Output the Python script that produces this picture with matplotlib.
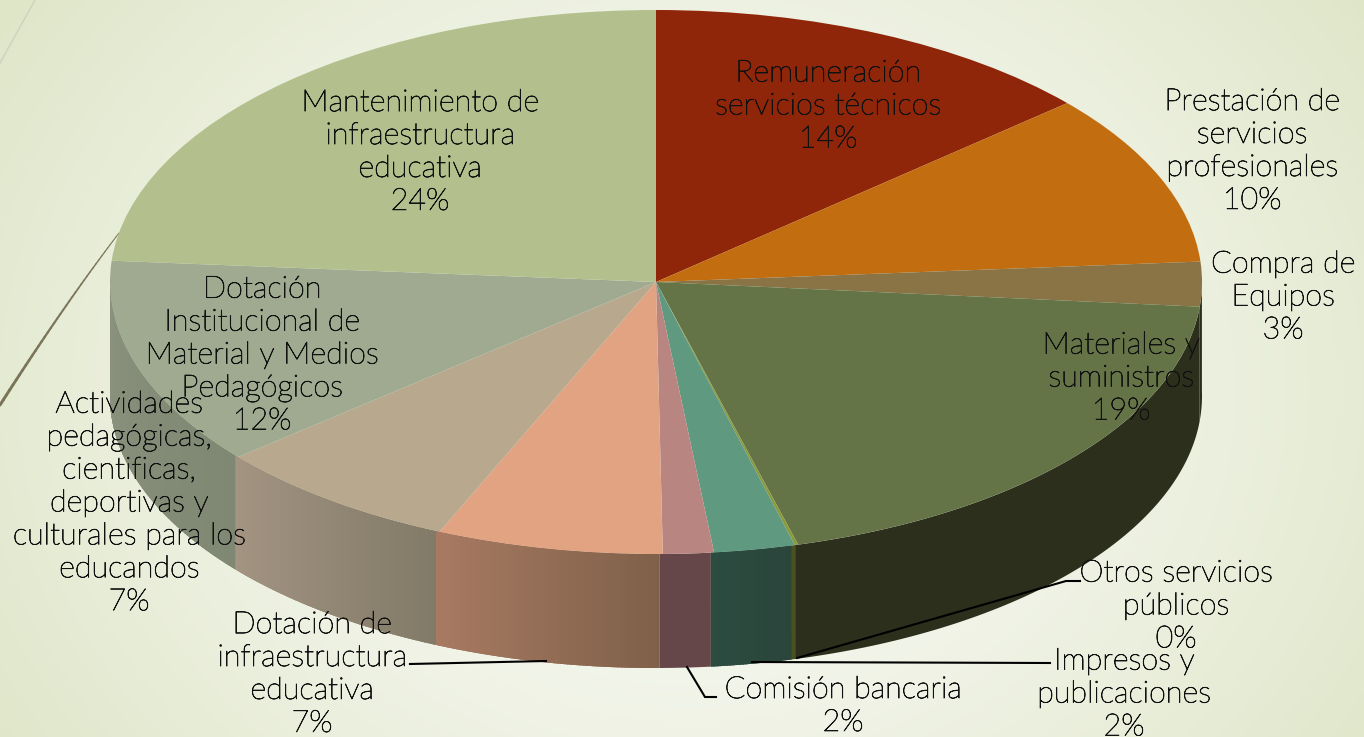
import numpy as np
import matplotlib
matplotlib.use("Agg")
import matplotlib.pyplot as plt
import matplotlib.patheffects as pe
from matplotlib.colors import to_rgb
from matplotlib.patches import Polygon
from matplotlib.collections import LineCollection

names = ["Remuneración\nservicios técnicos", "Prestación de\nservicios\nprofesionales",
         "Compra de\nEquipos", "Materiales y\nsuministros", "Otros servicios\npúblicos",
         "Impresos y\npublicaciones", "Comisión bancaria", "Dotación de\ninfraestructura\neducativa",
         "Actividades\npedagógicas,\ncientificas,\ndeportivas y\nculturales para los\neducandos",
         "Dotación\nInstitucional de\nMaterial y Medios\nPedagógicos",
         "Mantenimiento de\ninfraestructura\neducativa"]
values = [13.6, 10.25, 2.65, 19.4, 0.1, 2.4, 1.5, 6.7, 7.4, 12.4, 23.8]
shown = ["14%", "10%", "3%", "19%", "0%", "2%", "2%", "7%", "7%", "12%", "24%"]
top_colors = ["#8F260A", "#C26D10", "#8A7345", "#647447", "#8A9A3A", "#5F9980",
              "#B98580", "#E1A382", "#B8A98E", "#A0AA90", "#B3C08D"]
wall_from = ["#4A1A08", "#5A3A10", "#2C2F1C", "#2C2F1C", "#4A5020", "#2B453B",
             "#65474A", "#7F6049", "#827A68", "#7F8872", "#8B927F"]
wall_to = ["#4A1A08", "#5A3A10", "#2C2F1C", "#2C2F1C", "#4A5020", "#2C4C40",
           "#65474A", "#A87A62", "#A49482", "#8B927F", "#8B927F"]
label_x = [828, 1252, 1283, 1121, 1176, 1124, 843, 312, 129, 262, 420]
label_y = [106, 151, 297, 378, 606, 694, 706, 674, 503, 355, 152]

W, H = 1364, 737
CX, CY, RX, RY, DEPTH = 656, 282, 546, 272, 114

fig = plt.figure(figsize=(W / 100, H / 100), dpi=100)

# background
bg = fig.add_axes([0, 0, 1, 1], zorder=0)
yy, xx = np.mgrid[0:H, 0:W]
r = np.clip(np.sqrt(((xx - 690) / 820.0) ** 2 + ((yy - 390) / 680.0) ** 2), 0, 1)
c0, c1 = np.array(to_rgb("#F8F9F4")), np.array(to_rgb("#DFE6C8"))
bg.imshow(c0 + (c1 - c0) * (r[..., None] ** 1.6), extent=(0, W, H, 0), aspect="auto")
s = np.linspace(0, 1, 40)[:, None]
p0, p1, p2 = np.array([0, 405.0]), np.array([64, 305.0]), np.array([119, 233.0])
curve = (1 - s) ** 2 * p0 + 2 * s * (1 - s) * p1 + s ** 2 * p2
segs = np.stack([curve[:-1], curve[1:]], axis=1)
bg.add_collection(LineCollection(segs, colors="#7A7458", linewidths=np.linspace(2.2, 0.7, 39), capstyle="round"))
bg.plot([0, 35], [63, 0], color="#CFD2BE", lw=1)
bg.set_xlim(0, W); bg.set_ylim(H, 0); bg.axis("off")

# pie
ax = fig.add_axes([0, 0, 1, 1], zorder=1)
ax.patch.set_alpha(0)
edges = 90 - 3.6 * np.concatenate([[0], np.cumsum(values)])
drop = DEPTH / RY
for i in range(len(values)):
    a0, a1 = edges[i], edges[i + 1]
    th = np.radians(np.linspace(a0, a1, max(int((a0 - a1) * 3), 2) + 1))
    front = th[np.sin(th) <= 0.02]
    if len(front) < 2:
        continue
    ex, ey = np.cos(front), np.sin(front)
    outline = np.column_stack([np.r_[ex, ex[::-1]], np.r_[ey, ey[::-1] - drop]])
    c_a, c_b = np.array(to_rgb(wall_from[i])), np.array(to_rgb(wall_to[i]))
    base = Polygon(outline, closed=True, facecolor=(c_a + c_b) / 2, edgecolor="none", zorder=1)
    ax.add_patch(base)
    if wall_from[i] != wall_to[i]:
        for k in range(len(front) - 1):
            t = (k + 0.5) / (len(front) - 1)
            strip = ax.fill([ex[k], ex[k + 1], ex[k + 1], ex[k]],
                            [ey[k] + 0.05, ey[k + 1] + 0.05, ey[k + 1] - drop - 0.05, ey[k] - drop - 0.05],
                            facecolor=c_a * (1 - t) + c_b * t, edgecolor="none",
                            antialiased=False, zorder=2)[0]
            strip.set_clip_path(base)
wedges, _ = ax.pie(values, startangle=90, counterclock=False, colors=top_colors, radius=1,
                   normalize=True, wedgeprops=dict(linewidth=0))
for w in wedges:
    w.set_zorder(3)
ax.set_aspect("auto")
ax.set_xlim((0 - CX) / RX, (W - CX) / RX)
ax.set_ylim(-(H - CY) / RY, CY / RY)
ax.axis("off")

# labels and leader lines
ov = fig.add_axes([0, 0, 1, 1], zorder=2)
ov.patch.set_alpha(0)
ov.set_xlim(0, W); ov.set_ylim(H, 0); ov.axis("off")
for xs, ys in [([410, 546], [664, 661]), ([687, 705, 716], [667, 697, 697]),
               ([752, 1050], [662, 663]), ([797, 1066, 1080], [658, 581, 581])]:
    ov.plot(xs, ys, color="black", lw=1.5, solid_joinstyle="miter")
for n, sh, x, y in zip(names, shown, label_x, label_y):
    ov.text(x, y, n + "\n" + sh, ha="center", va="center", multialignment="center",
            fontsize=22, family="Lato", weight="light", color="#111111", linespacing=1.17,
            path_effects=[pe.withStroke(linewidth=0.55, foreground="#111111")])

fig.savefig("out.png", dpi=100)
